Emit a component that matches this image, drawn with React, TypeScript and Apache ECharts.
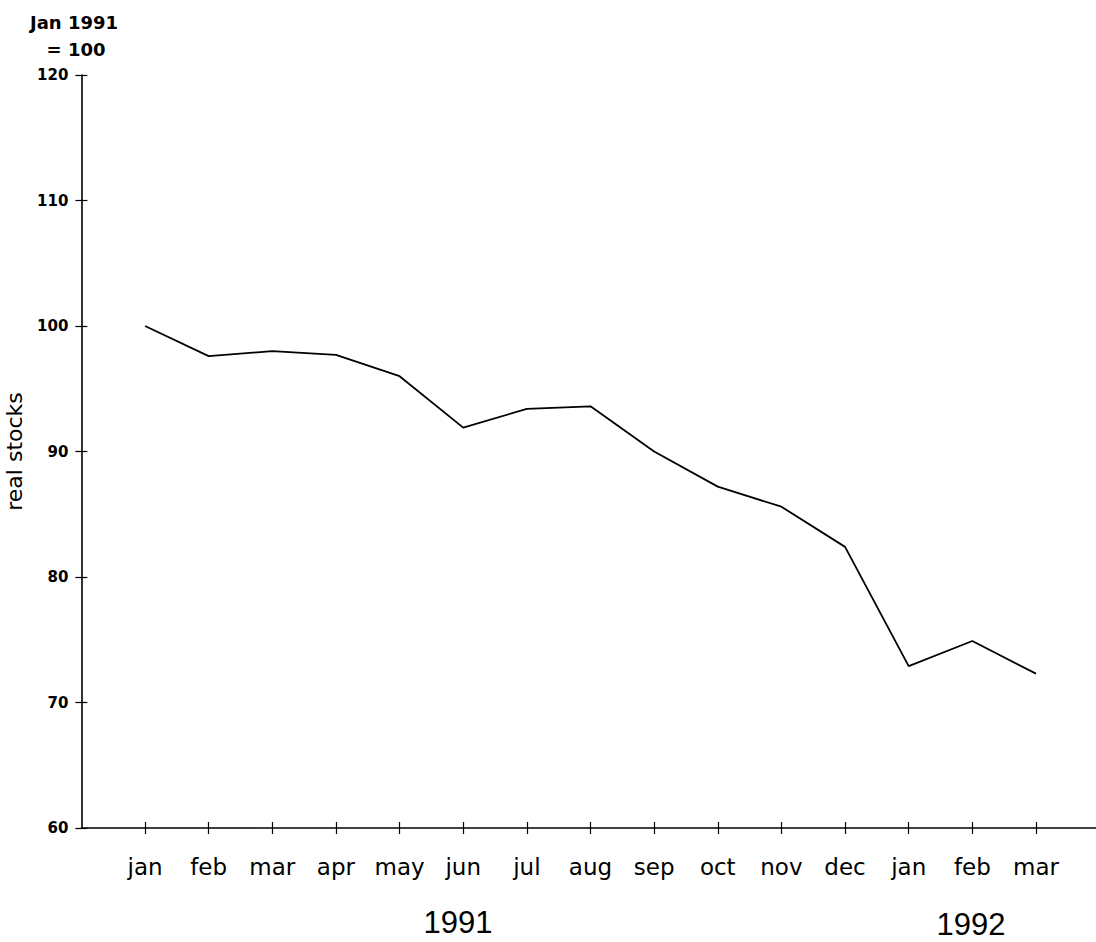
import React, { useEffect, useRef } from "react";
import * as echarts from "echarts";

const months = ["jan", "feb", "mar", "apr", "may", "jun", "jul", "aug", "sep", "oct", "nov", "dec", "jan", "feb", "mar"];
const realStocks = [100.0, 97.6, 98.0, 97.7, 96.0, 91.9, 93.4, 93.6, 90.0, 87.2, 85.6, 82.4, 72.9, 74.9, 72.3];
const yTicks = [60, 70, 80, 90, 100, 110, 120];
const yearLabels = ["1991", "1992"];

export default function App() {
  const ref = useRef<HTMLDivElement>(null);
  useEffect(() => {
    document.body.style.margin = "0";
    if (!ref.current) return;
    const chart = echarts.init(ref.current, null, { renderer: "svg" });
    const data = realStocks.map((v, i) => [i, v]);
    const monthIdx = months.map((_, i) => i);
    const xCommon = {
      type: "value" as const,
      min: -1,
      max: 15,
      interval: 1,
      splitLine: { show: false },
    };
    const yCommon = {
      type: "value" as const,
      min: yTicks[0],
      max: yTicks[yTicks.length - 1],
      interval: 10,
      splitLine: { show: false },
    };
    chart.setOption({
      animation: false,
      backgroundColor: "#ffffff",
      grid: {
        left: 81.4,
        right: -3.6,
        top: 75,
        bottom: 114,
        containLabel: false,
        outerBoundsMode: "none",
      },
      xAxis: [
        {
          ...xCommon,
          axisLine: { show: true, onZero: false, lineStyle: { color: "#000", width: 1.6 } },
          axisTick: { show: true, length: 6, customValues: monthIdx, lineStyle: { color: "#000", width: 1.2 } },
          axisLabel: {
            show: true,
            margin: 27,
            color: "#000",
            fontFamily: "DejaVu Sans",
            fontSize: 23,
            customValues: monthIdx,
            formatter: (v: number) => (Number.isInteger(v) && v >= 0 && v < months.length ? months[v] : ""),
          },
        },
        {
          ...xCommon,
          position: "bottom",
          axisLine: { show: false, onZero: false },
          axisTick: { show: true, inside: true, length: 6, customValues: monthIdx, lineStyle: { color: "#000", width: 1.2 } },
          axisLabel: { show: false },
        },
      ],
      yAxis: [
        {
          ...yCommon,
          name: "real stocks",
          nameLocation: "middle",
          nameGap: 56,
          nameTextStyle: { color: "#000", fontFamily: "DejaVu Sans", fontSize: 22 },
          axisLine: { show: true, onZero: false, lineStyle: { color: "#000", width: 1.6 } },
          axisTick: { show: true, length: 6, lineStyle: { color: "#000", width: 1.2 } },
          axisLabel: {
            show: true,
            margin: 13,
            color: "#000",
            fontFamily: "DejaVu Sans",
            fontWeight: "bold",
            fontSize: 15,
          },
        },
        {
          ...yCommon,
          position: "left",
          axisLine: { show: false, onZero: false },
          axisTick: { show: true, inside: true, length: 6, lineStyle: { color: "#000", width: 1.2 } },
          axisLabel: { show: false },
        },
      ],
      series: [
        {
          type: "line",
          data,
          xAxisIndex: 0,
          yAxisIndex: 0,
          showSymbol: false,
          symbol: "none",
          lineStyle: { color: "#000", width: 1.8 },
        },
      ],
      graphic: [
        {
          type: "text",
          x: 74,
          y: 22,
          style: {
            text: "Jan 1991",
            fill: "#000",
            font: "bold 18px 'DejaVu Sans'",
            textAlign: "center",
            textVerticalAlign: "middle",
          },
        },
        {
          type: "text",
          x: 76,
          y: 49,
          style: {
            text: "= 100",
            fill: "#000",
            font: "bold 18px 'DejaVu Sans'",
            textAlign: "center",
            textVerticalAlign: "middle",
          },
        },
        {
          type: "text",
          x: 458,
          y: 922,
          style: {
            text: yearLabels[0],
            fill: "#000",
            font: "31px 'Liberation Sans'",
            textAlign: "center",
            textVerticalAlign: "middle",
          },
        },
        {
          type: "text",
          x: 971,
          y: 924,
          style: {
            text: yearLabels[1],
            fill: "#000",
            font: "31px 'Liberation Sans'",
            textAlign: "center",
            textVerticalAlign: "middle",
          },
        },
      ],
    });
    return () => chart.dispose();
  }, []);
  return <div ref={ref} style={{ width: 1096, height: 942 }} />;
}
